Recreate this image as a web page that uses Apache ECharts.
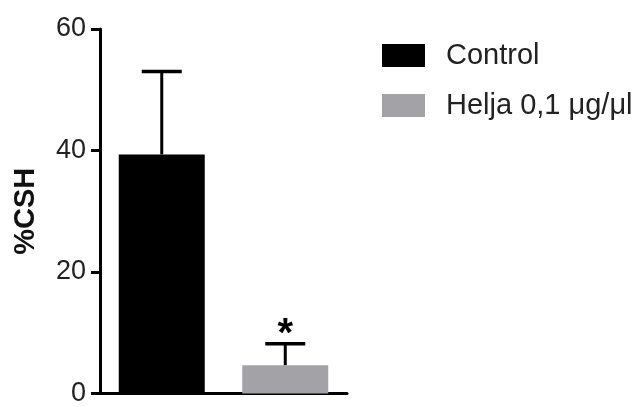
<!DOCTYPE html>
<html>
<head>
<meta charset="utf-8">
<script src="https://cdn.jsdelivr.net/npm/echarts@6/dist/echarts.min.js"></script>
<style>html,body{margin:0;padding:0;background:#fff;}#c{width:640px;height:407px;}</style>
</head>
<body>
<div id="c"></div>
<script>
var categories = ['Control', 'Helja 0,1 \u03bcg/\u03bcl'];
var meanValues = [39.35, 4.67];
var errorUpper = [53.0, 8.2];
var significance = ['', '*'];
var yTicks = [0, 20, 40, 60];
var colors = ['#000000', '#a3a3a7'];

var FONT = '"Liberation Sans", Arial, Helvetica, sans-serif';
var chart = echarts.init(document.getElementById('c'));

var barSeries = categories.map(function (name, i) {
  var d = categories.map(function (_, j) { return j === i ? meanValues[j] : '-'; });
  return {
    name: name, type: 'bar', data: d, barWidth: 86, barGap: '-100%',
    itemStyle: { color: colors[i] }, z: 2
  };
});

var errData = categories.map(function (_, i) { return [i, meanValues[i], errorUpper[i], significance[i]]; });

option = {
  animation: false,
  grid: { left: 100, right: 293, top: 29, bottom: 9 },
  legend: {
    orient: 'vertical', left: 377, top: 36,
    itemWidth: 43, itemHeight: 23, itemGap: 21,
    icon: 'rect',
    data: categories,
    textStyle: { fontFamily: FONT, fontSize: 29, color: '#222', lineHeight: 23, padding: [0, 0, 0, 16] }
  },
  xAxis: {
    type: 'category', data: categories,
    axisLine: { lineStyle: { color: '#000', width: 3 } },
    axisTick: { alignWithLabel: true, length: 10, lineStyle: { color: '#000', width: 3 } },
    axisLabel: { show: false }
  },
  yAxis: {
    type: 'value', min: yTicks[0], max: yTicks[yTicks.length - 1], interval: 20,
    name: '%CSH', nameLocation: 'middle', nameRotate: 90, nameGap: 60,
    nameTextStyle: { fontFamily: FONT, fontSize: 29, fontWeight: 'bold', color: '#111' },
    axisLine: { show: true, lineStyle: { color: '#000', width: 3 } },
    axisTick: { show: true, length: 9, lineStyle: { color: '#000', width: 3 } },
    axisLabel: { fontFamily: FONT, fontSize: 27, color: '#222', margin: 14 },
    splitLine: { show: false }
  },
  series: barSeries.concat([{
    type: 'custom', data: errData, z: 3,
    renderItem: function (params, api) {
      var x = api.value(0);
      var base = api.coord([x, api.value(1)]);
      var top = api.coord([x, api.value(2)]);
      var half = 20;
      var children = [
        { type: 'line', shape: { x1: base[0], y1: base[1], x2: top[0], y2: top[1] }, style: { stroke: '#000', lineWidth: 3 } },
        { type: 'line', shape: { x1: top[0] - half, y1: top[1], x2: top[0] + half, y2: top[1] }, style: { stroke: '#000', lineWidth: 3.5 } }
      ];
      var sig = significance[params.dataIndex];
      if (sig) {
        children.push({ type: 'text', style: { text: sig, x: top[0], y: top[1] + 11, align: 'center', verticalAlign: 'bottom', fontFamily: FONT, fontSize: 40, fontWeight: 'bold', fill: '#000' } });
      }
      return { type: 'group', children: children };
    }
  }])
};
chart.setOption(option);
</script>
</body>
</html>
